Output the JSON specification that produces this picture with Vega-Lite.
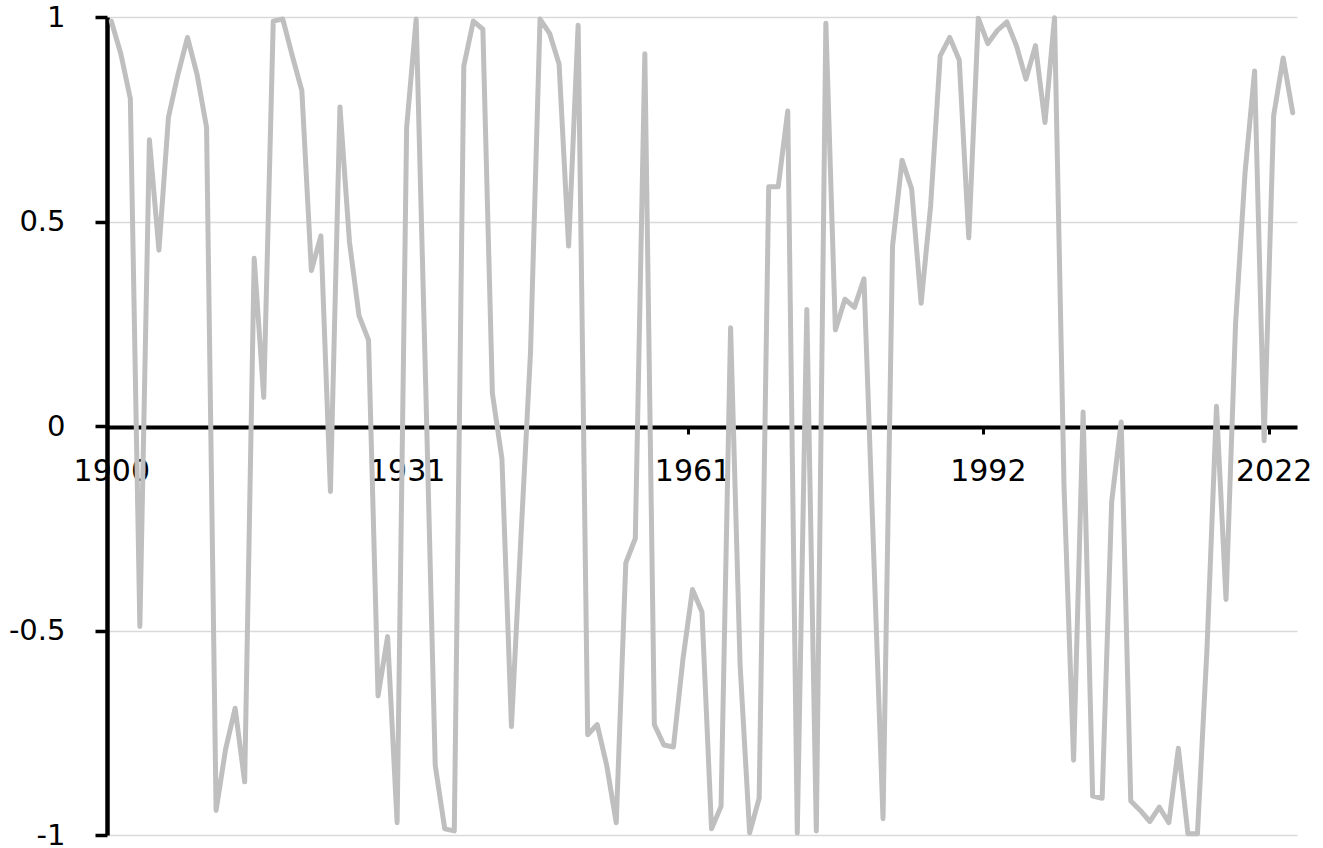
{
  "$schema": "https://vega.github.io/schema/vega-lite/v6.json",
  "width": 1190,
  "height": 818,
  "autosize": "none",
  "padding": {"left": 107, "top": 17, "right": 26, "bottom": 13},
  "background": "white",
  "config": {"view": {"stroke": null}},
  "data": {"values": [
    {"year": 1900, "value": 0.99}, {"year": 1901, "value": 0.91}, {"year": 1902, "value": 0.80}, {"year": 1903, "value": -0.49},
    {"year": 1904, "value": 0.70}, {"year": 1905, "value": 0.43}, {"year": 1906, "value": 0.755}, {"year": 1907, "value": 0.86},
    {"year": 1908, "value": 0.95}, {"year": 1909, "value": 0.86}, {"year": 1910, "value": 0.73}, {"year": 1911, "value": -0.94},
    {"year": 1912, "value": -0.79}, {"year": 1913, "value": -0.69}, {"year": 1914, "value": -0.87}, {"year": 1915, "value": 0.41},
    {"year": 1916, "value": 0.07}, {"year": 1917, "value": 0.99}, {"year": 1918, "value": 0.995}, {"year": 1919, "value": 0.905},
    {"year": 1920, "value": 0.82}, {"year": 1921, "value": 0.38}, {"year": 1922, "value": 0.465}, {"year": 1923, "value": -0.16},
    {"year": 1924, "value": 0.78}, {"year": 1925, "value": 0.45}, {"year": 1926, "value": 0.27}, {"year": 1927, "value": 0.21},
    {"year": 1928, "value": -0.66}, {"year": 1929, "value": -0.515}, {"year": 1930, "value": -0.97}, {"year": 1931, "value": 0.73},
    {"year": 1932, "value": 0.995}, {"year": 1933, "value": 0.1}, {"year": 1934, "value": -0.83}, {"year": 1935, "value": -0.985},
    {"year": 1936, "value": -0.99}, {"year": 1937, "value": 0.88}, {"year": 1938, "value": 0.99}, {"year": 1939, "value": 0.97},
    {"year": 1940, "value": 0.08}, {"year": 1941, "value": -0.08}, {"year": 1942, "value": -0.735}, {"year": 1943, "value": -0.27},
    {"year": 1944, "value": 0.18}, {"year": 1945, "value": 0.995}, {"year": 1946, "value": 0.96}, {"year": 1947, "value": 0.885},
    {"year": 1948, "value": 0.44}, {"year": 1949, "value": 0.98}, {"year": 1950, "value": -0.755}, {"year": 1951, "value": -0.73},
    {"year": 1952, "value": -0.83}, {"year": 1953, "value": -0.97}, {"year": 1954, "value": -0.335}, {"year": 1955, "value": -0.275},
    {"year": 1956, "value": 0.91}, {"year": 1957, "value": -0.73}, {"year": 1958, "value": -0.78}, {"year": 1959, "value": -0.785},
    {"year": 1960, "value": -0.57}, {"year": 1961, "value": -0.40}, {"year": 1962, "value": -0.455}, {"year": 1963, "value": -0.985},
    {"year": 1964, "value": -0.93}, {"year": 1965, "value": 0.24}, {"year": 1966, "value": -0.585}, {"year": 1967, "value": -0.995},
    {"year": 1968, "value": -0.91}, {"year": 1969, "value": 0.585}, {"year": 1970, "value": 0.585}, {"year": 1971, "value": 0.77},
    {"year": 1972, "value": -0.995}, {"year": 1973, "value": 0.285}, {"year": 1974, "value": -0.99}, {"year": 1975, "value": 0.985},
    {"year": 1976, "value": 0.235}, {"year": 1977, "value": 0.31}, {"year": 1978, "value": 0.29}, {"year": 1979, "value": 0.36},
    {"year": 1980, "value": -0.3}, {"year": 1981, "value": -0.96}, {"year": 1982, "value": 0.44}, {"year": 1983, "value": 0.65},
    {"year": 1984, "value": 0.58}, {"year": 1985, "value": 0.30}, {"year": 1986, "value": 0.54}, {"year": 1987, "value": 0.905},
    {"year": 1988, "value": 0.95}, {"year": 1989, "value": 0.895}, {"year": 1990, "value": 0.46}, {"year": 1991, "value": 0.997},
    {"year": 1992, "value": 0.935}, {"year": 1993, "value": 0.967}, {"year": 1994, "value": 0.988}, {"year": 1995, "value": 0.93},
    {"year": 1996, "value": 0.848}, {"year": 1997, "value": 0.93}, {"year": 1998, "value": 0.742}, {"year": 1999, "value": 0.998},
    {"year": 2000, "value": -0.15}, {"year": 2001, "value": -0.817}, {"year": 2002, "value": 0.034}, {"year": 2003, "value": -0.905},
    {"year": 2004, "value": -0.91}, {"year": 2005, "value": -0.185}, {"year": 2006, "value": 0.01}, {"year": 2007, "value": -0.917},
    {"year": 2008, "value": -0.94}, {"year": 2009, "value": -0.967}, {"year": 2010, "value": -0.932}, {"year": 2011, "value": -0.97},
    {"year": 2012, "value": -0.788}, {"year": 2013, "value": -0.997}, {"year": 2014, "value": -0.997}, {"year": 2015, "value": -0.546},
    {"year": 2016, "value": 0.048}, {"year": 2017, "value": -0.424}, {"year": 2018, "value": 0.249}, {"year": 2019, "value": 0.62},
    {"year": 2020, "value": 0.868}, {"year": 2021, "value": -0.036}, {"year": 2022, "value": 0.759}, {"year": 2023, "value": 0.9},
    {"year": 2024, "value": 0.766}
  ]},
  "mark": {"type": "line", "color": "#bfbfbf", "strokeWidth": 5, "strokeJoin": "round", "strokeCap": "round"},
  "encoding": {
    "x": {
      "field": "year", "type": "quantitative",
      "scale": {"domain": [1899.55, 2024.45], "nice": false, "zero": false},
      "axis": {
        "title": null, "grid": false, "offset": -408,
        "values": [1900, 1931, 1961, 1992, 2022],
        "labelExpr": "toString(datum.value)",
        "domainColor": "black", "domainWidth": 4,
        "tickColor": "black", "tickSize": 7, "tickWidth": 3,
        "tickOffset": -4.76, "labelOffset": 4.76,
        "labelPadding": 22, "labelFont": "DejaVu Sans", "labelFontSize": 30, "labelColor": "black",
        "labelOverlap": false, "labelFlush": false
      }
    },
    "y": {
      "field": "value", "type": "quantitative",
      "scale": {"domain": [-1, 1], "nice": false},
      "axis": {
        "title": null, "values": [-1, -0.5, 0, 0.5, 1],
        "labelExpr": "toString(datum.value)",
        "grid": true, "gridColor": "#d9d9d9", "gridWidth": 1.3,
        "domainColor": "black", "domainWidth": 4.5,
        "tickColor": "black", "tickSize": 12, "tickWidth": 3.5,
        "labelPadding": 30, "labelFont": "DejaVu Sans", "labelFontSize": 29, "labelColor": "black",
        "labelOverlap": false, "labelFlush": false
      }
    }
  }
}
